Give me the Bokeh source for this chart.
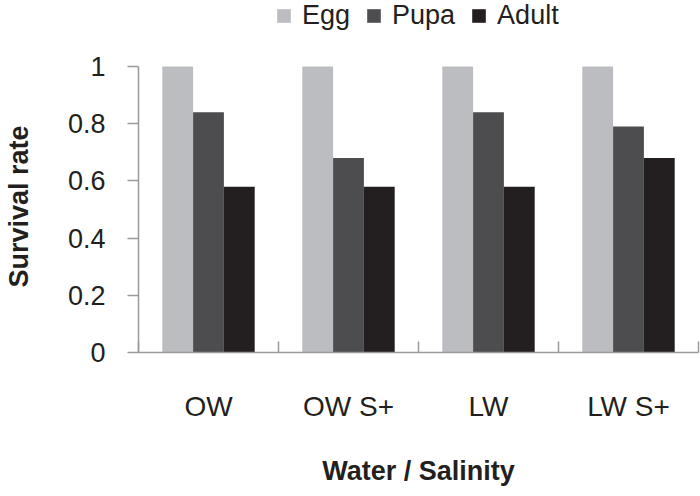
from bokeh.plotting import figure
from bokeh.models import (ColumnDataSource, FactorRange, Range1d, LinearAxis, CategoricalAxis,
                          FixedTicker, Legend, LegendItem, NumeralTickFormatter)
from bokeh.transform import dodge
from bokeh.embed import file_html
from bokeh.resources import INLINE

categories = ["OW", "OW S+", "LW", "LW S+"]
stages = ["Egg", "Pupa", "Adult"]
egg = [1.0, 1.0, 1.0, 1.0]
pupa = [0.84, 0.68, 0.84, 0.79]
adult = [0.58, 0.58, 0.58, 0.68]
y_ticks = [0, 0.2, 0.4, 0.6, 0.8, 1.0]
colors = ["#bcbdc0", "#4d4d4f", "#231f20"]

FONT = "Liberation Sans"
TEXT = "#231f20"
AXIS = "#9a9a9a"

source = ColumnDataSource(dict(cat=categories, Egg=egg, Pupa=pupa, Adult=adult))

# the frame extends above 1.0 to leave room for the legend inside the plot area
p = figure(x_range=FactorRange(factors=categories, range_padding=0), y_range=Range1d(0, 1.231),
           width=700, height=496, output_backend="svg", toolbar_location=None,
           x_axis_location=None, min_border_left=133, min_border_right=2,
           min_border_top=0, min_border_bottom=144)
p.outline_line_color = None
p.grid.grid_line_color = None

bw = 0.22
renderers = []
for i, (stage, color) in enumerate(zip(stages, colors)):
    r = p.vbar(x=dodge("cat", (i - 1) * bw, range=p.x_range), top=stage, width=bw,
               source=source, fill_color=color, line_color=None)
    renderers.append(r)

# y axis
ya = p.yaxis[0]
ya.bounds = (y_ticks[0], y_ticks[-1])
ya.ticker = FixedTicker(ticks=y_ticks)
ya.formatter = NumeralTickFormatter(format="0.[0]")
ya.major_tick_out = 11
ya.major_tick_in = 0
ya.minor_tick_line_color = None
ya.axis_line_color = AXIS
ya.axis_line_width = 1.5
ya.major_tick_line_color = AXIS
ya.major_tick_line_width = 1.5
ya.major_label_standoff = 22
ya.major_label_text_font = FONT
ya.major_label_text_font_size = "27px"
ya.major_label_text_color = TEXT
# non-breaking spaces centre the title on the 0..1 part of the axis
ya.axis_label = "Survival rate" + "\u00a0" * 8
ya.axis_label_text_font = FONT
ya.axis_label_text_font_size = "27px"
ya.axis_label_text_font_style = "bold"
ya.axis_label_text_color = TEXT
ya.axis_label_standoff = 31

# bottom axis: tick marks at category boundaries (synthetic coordinates 0..n)
ta = LinearAxis(ticker=FixedTicker(ticks=list(range(len(categories) + 1))),
                major_label_text_font_size="0px", major_label_text_color=None,
                major_label_standoff=0,
                major_tick_in=11, major_tick_out=0, minor_tick_line_color=None,
                axis_line_color=AXIS, axis_line_width=1.5,
                major_tick_line_color=AXIS, major_tick_line_width=1.5)
p.add_layout(ta, "below")

ca = CategoricalAxis(axis_line_color=None, major_tick_line_color=None,
                     major_tick_in=0, major_tick_out=0, minor_tick_line_color=None,
                     major_label_standoff=38, major_label_text_font=FONT,
                     major_label_text_font_size="28px", major_label_text_color=TEXT,
                     axis_label="Water / Salinity", axis_label_text_font=FONT,
                     axis_label_text_font_size="27px", axis_label_text_font_style="bold",
                     axis_label_text_color=TEXT, axis_label_standoff=31)
p.add_layout(ca, "below")

legend = Legend(items=[LegendItem(label=s, renderers=[r]) for s, r in zip(stages, renderers)],
                orientation="horizontal", location=(137, 321),
                glyph_width=17, glyph_height=17, label_standoff=10, spacing=15,
                padding=0, margin=0, border_line_color=None, background_fill_alpha=0,
                label_text_font=FONT, label_text_font_size="27px", label_text_color=TEXT)
p.add_layout(legend)

open("out.html", "w").write(file_html(p, INLINE))
